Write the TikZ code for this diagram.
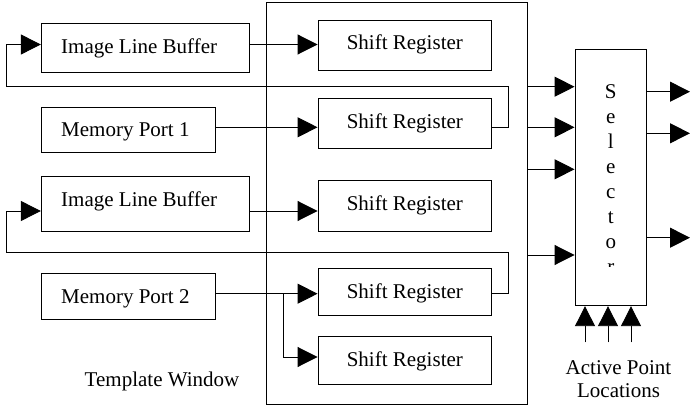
\documentclass[tikz,border=0pt]{standalone}
\usepackage{fontspec}
\setmainfont{Liberation Serif}
\usetikzlibrary{arrows.meta}
\begin{document}
\begin{tikzpicture}[x=1pt,y=-1pt,
  box/.style={draw, line width=0.9pt, inner sep=0pt},
  lbl/.style={font=\fontsize{21}{25}\selectfont, inner sep=0pt, anchor=base},
  lblw/.style={lbl, anchor=base west},
  wire/.style={line width=0.9pt},
  arr/.style={wire, -{Triangle[length=20pt,width=20pt]}}]
\useasboundingbox (0,0) rectangle (690,406);

% boxes
\node[box, minimum width=208pt, minimum height=48.7pt] (ilb1) at (145.3,47.65) {};
\node[box, minimum width=174pt, minimum height=45pt] (mp1) at (128.3,129.5) {};
\node[box, minimum width=208pt, minimum height=55pt] (ilb2) at (145.3,204.2) {};
\node[box, minimum width=174pt, minimum height=46pt] (mp2) at (128.3,296) {};
\node[box, minimum width=260.6pt, minimum height=401.3pt] (win) at (397,203.35) {};
\node[box, minimum width=173.7pt, minimum height=50.7pt] (sr1) at (404.85,45.35) {};
\node[box, minimum width=173.7pt, minimum height=50pt] (sr2) at (404.85,123.7) {};
\node[box, minimum width=173.7pt, minimum height=51pt] (sr3) at (404.85,206.2) {};
\node[box, minimum width=173.7pt, minimum height=47.7pt] (sr4) at (404.85,291.85) {};
\node[box, minimum width=173.7pt, minimum height=48.4pt] (sr5) at (404.85,360.5) {};
\node[box, minimum width=71.7pt, minimum height=256.7pt] (sel) at (610.85,177.35) {};

% texts
\node[lblw] (ilb1t) at (61,54) {Image Line Buffer};
\node[lblw] (mp1t) at (61,136.7) {Memory Port 1};
\node[lblw] (ilb2t) at (61,206.7) {Image Line Buffer};
\node[lblw] (mp2t) at (61,303) {Memory Port 2};
\node[lbl] (sr1t) at (404.85,50) {Shift Register};
\node[lbl] (sr2t) at (404.85,128.3) {Shift Register};
\node[lbl] (sr3t) at (404.85,210.7) {Shift Register};
\node[lbl] (sr4t) at (404.85,298) {Shift Register};
\node[lbl] (sr5t) at (404.85,366.3) {Shift Register};
\node[lbl] (twt) at (162,386.3) {Template Window};
\node[lbl] (apt) at (618.5,374.7) {Active Point};
\node[lbl] (loct) at (618.5,397.3) {Locations};
\foreach \ch [count=\i] in {S,e,l,e,c,t,o}
  \node[lbl] (sel\i) at (610.8,73.5+25*\i) {\ch};
\begin{scope}
  \clip (575,49) rectangle (646.7,266);
  \node[lbl] (sel8) at (610.8,273.5) {r};
\end{scope}

% row coordinates
\coordinate (r1) at (0,44.5);
\coordinate (r2) at (0,86.7);
\coordinate (r3) at (0,127.3);
\coordinate (r4) at (0,169.3);
\coordinate (r5) at (0,211);
\coordinate (r6) at (0,252.7);
\coordinate (r7) at (0,255);
\coordinate (r8) at (0,293.7);
\coordinate (r9) at (0,357);
\coordinate (lp1a) at (508,86.7);
\coordinate (lp1b) at (6.7,44.5);
\coordinate (lp2a) at (508,252.7);
\coordinate (lp2b) at (6.7,211);
\coordinate (br) at (283.3,293.7);
\coordinate (o1) at (690,91.7);
\coordinate (o2) at (690,133.3);
\coordinate (o3) at (690,237.7);
\coordinate (b1) at (585,342.3);
\coordinate (b2) at (608,342.3);
\coordinate (b3) at (631,342.3);

% connectors
\draw[arr] (ilb1.east |- r1) -- (sr1.west |- r1);
\draw[arr] (mp1.east |- r3) -- (sr2.west |- r3);
\draw[arr] (ilb2.east |- r5) -- (sr3.west |- r5);
\draw[arr] (mp2.east |- r8) -- (sr4.west |- r8);
\draw[arr] (br) |- (sr5.west |- r9);
\draw[arr] (sr2.east |- r3) -| (lp1a) -| (lp1b) -- (ilb1.west |- r1);
\draw[arr] (sr4.east |- r8) -| (lp2a) -| (lp2b) -- (ilb2.west |- r5);

\draw[arr] (win.east |- r2) -- (sel.west |- r2);
\draw[arr] (win.east |- r3) -- (sel.west |- r3);
\draw[arr] (win.east |- r4) -- (sel.west |- r4);
\draw[arr] (win.east |- r7) -- (sel.west |- r7);

\draw[arr] (sel.east |- o1) -- (o1);
\draw[arr] (sel.east |- o2) -- (o2);
\draw[arr] (sel.east |- o3) -- (o3);

\draw[arr] (b1) -- (b1 |- sel.south);
\draw[arr] (b2) -- (b2 |- sel.south);
\draw[arr] (b3) -- (b3 |- sel.south);
\end{tikzpicture}
\end{document}
